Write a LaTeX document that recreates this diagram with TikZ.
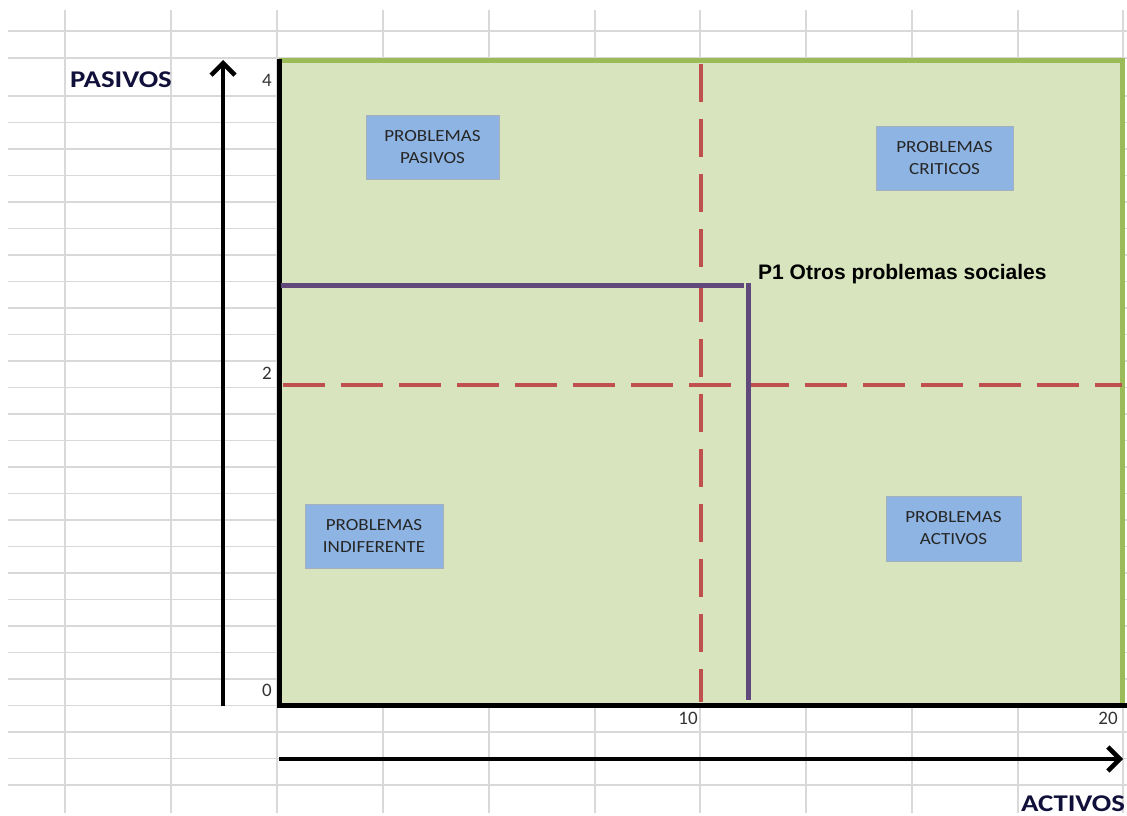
\documentclass[tikz,border=0pt]{standalone}
\usepackage{fontspec}
\setmainfont{Carlito}
\newfontfamily\arialfont{Liberation Sans}
\newfontfamily\axisfont{Carlito}[FakeStretch=1.2]
\newfontfamily\boxfont{Carlito}[FakeStretch=1.12]
\usetikzlibrary{arrows.meta}
\definecolor{gridgray}{HTML}{D9D9D9}
\definecolor{quadgreen}{HTML}{D7E4BD}
\definecolor{bordergreen}{HTML}{9BBB59}
\definecolor{boxblue}{HTML}{8DB4E2}
\definecolor{boxedge}{HTML}{A5B0BC}
\definecolor{dashred}{HTML}{C0504D}
\definecolor{plinecol}{HTML}{60497A}
\definecolor{labelnavy}{HTML}{10103A}
\begin{document}
\begin{tikzpicture}[x=1pt,y=-1pt,
  gridline/.style={draw=gridgray,line width=1.5pt},
  quadbox/.style={rectangle,fill=boxblue,draw=boxedge,line width=1pt,inner sep=0pt,
     align=center,text=black!85,font=\boxfont\fontsize{17}{22}\selectfont},
  axisarrow/.style={line width=4.5pt,-{Straight Barb[length=12pt,width=24pt]}},
  reddash/.style={draw=dashred,line width=4pt},
  pline/.style={draw=plinecol,line width=5pt},
  ticklabel/.style={font=\fontsize{19}{19}\selectfont,inner sep=0pt,text=black!80},
  axislabel/.style={font=\axisfont\fontsize{24}{24}\selectfont\bfseries,inner sep=0pt,text=labelnavy}]
\useasboundingbox (0,0) rectangle (1127,816);
\fill[white] (0,0) rectangle (1127,816);
% spreadsheet grid
\foreach \yy in {31,58} \draw[gridline] (8,\yy) -- (1127,\yy);
\foreach \k in {0,...,26} \draw[gridline] (8,{96+26.5*\k}) -- (1127,{96+26.5*\k});
\foreach \xx in {65,171,277,383,489,595,700,806,912,1018,1123} \draw[gridline] (\xx,10) -- (\xx,813);
% quadrant area
\fill[quadgreen] (279,61) rectangle (1122,705);
\draw[draw=bordergreen,line width=5pt] (279,61) -- (1122,61) -- (1122,705);
\draw[line width=5pt] (279,59) -- (279,705) -- (1127,705);
% red dashed dividers
\coordinate (vtop) at (701,64);
\coordinate (vbot) at (701,702);
\coordinate (hleft) at (283,385);
\coordinate (hright) at (1122,385);
\draw[reddash,dash pattern=on 38pt off 17pt] (vtop) -- (vbot);
\draw[reddash,dash pattern=on 42pt off 16pt] (hleft) -- (hright);
% purple position lines
\coordinate (pa) at (281,285);
\coordinate (pb) at (744,285);
\coordinate (pc) at (748,283);
\coordinate (pd) at (748,700);
\draw[pline] (pa) -- (pb);
\draw[pline] (pc) -- (pd);
% axes
\coordinate (ybot) at (223,706);
\coordinate (ytop) at (223,60);
\coordinate (xleft) at (279,759);
\coordinate (xright) at (1123,759);
\draw[axisarrow] (ybot) -- (ytop);
\draw[axisarrow] (xleft) -- (xright);
% labels
\node[axislabel] (pasivos) at (121,80) {PASIVOS};
\node[axislabel,anchor=base] (activos) at (1073,811) {ACTIVOS};
\node[ticklabel] (t4) at (267,80) {4};
\node[ticklabel] (t2) at (267,373) {2};
\node[ticklabel] (t0) at (267,690) {0};
\node[ticklabel] (t10) at (688,718) {10};
\node[ticklabel] (t20) at (1108,718) {20};
\node[anchor=base west,inner sep=0pt,font=\arialfont\bfseries\fontsize{21}{21}\selectfont] (p1) at (758,279) {P1 Otros problemas sociales};
% quadrant boxes
\node[quadbox,minimum width=133pt,minimum height=64pt] (bpas) at (432.5,147) {PROBLEMAS\\PASIVOS};
\node[quadbox,minimum width=137pt,minimum height=64pt] (bcri) at (944.5,158) {PROBLEMAS\\CRITICOS};
\node[quadbox,minimum width=138pt,minimum height=64pt] (bind) at (374,536) {PROBLEMAS\\INDIFERENTE};
\node[quadbox,minimum width=135pt,minimum height=65pt] (bact) at (953.5,528.5) {PROBLEMAS\\ACTIVOS};
\end{tikzpicture}
\end{document}
